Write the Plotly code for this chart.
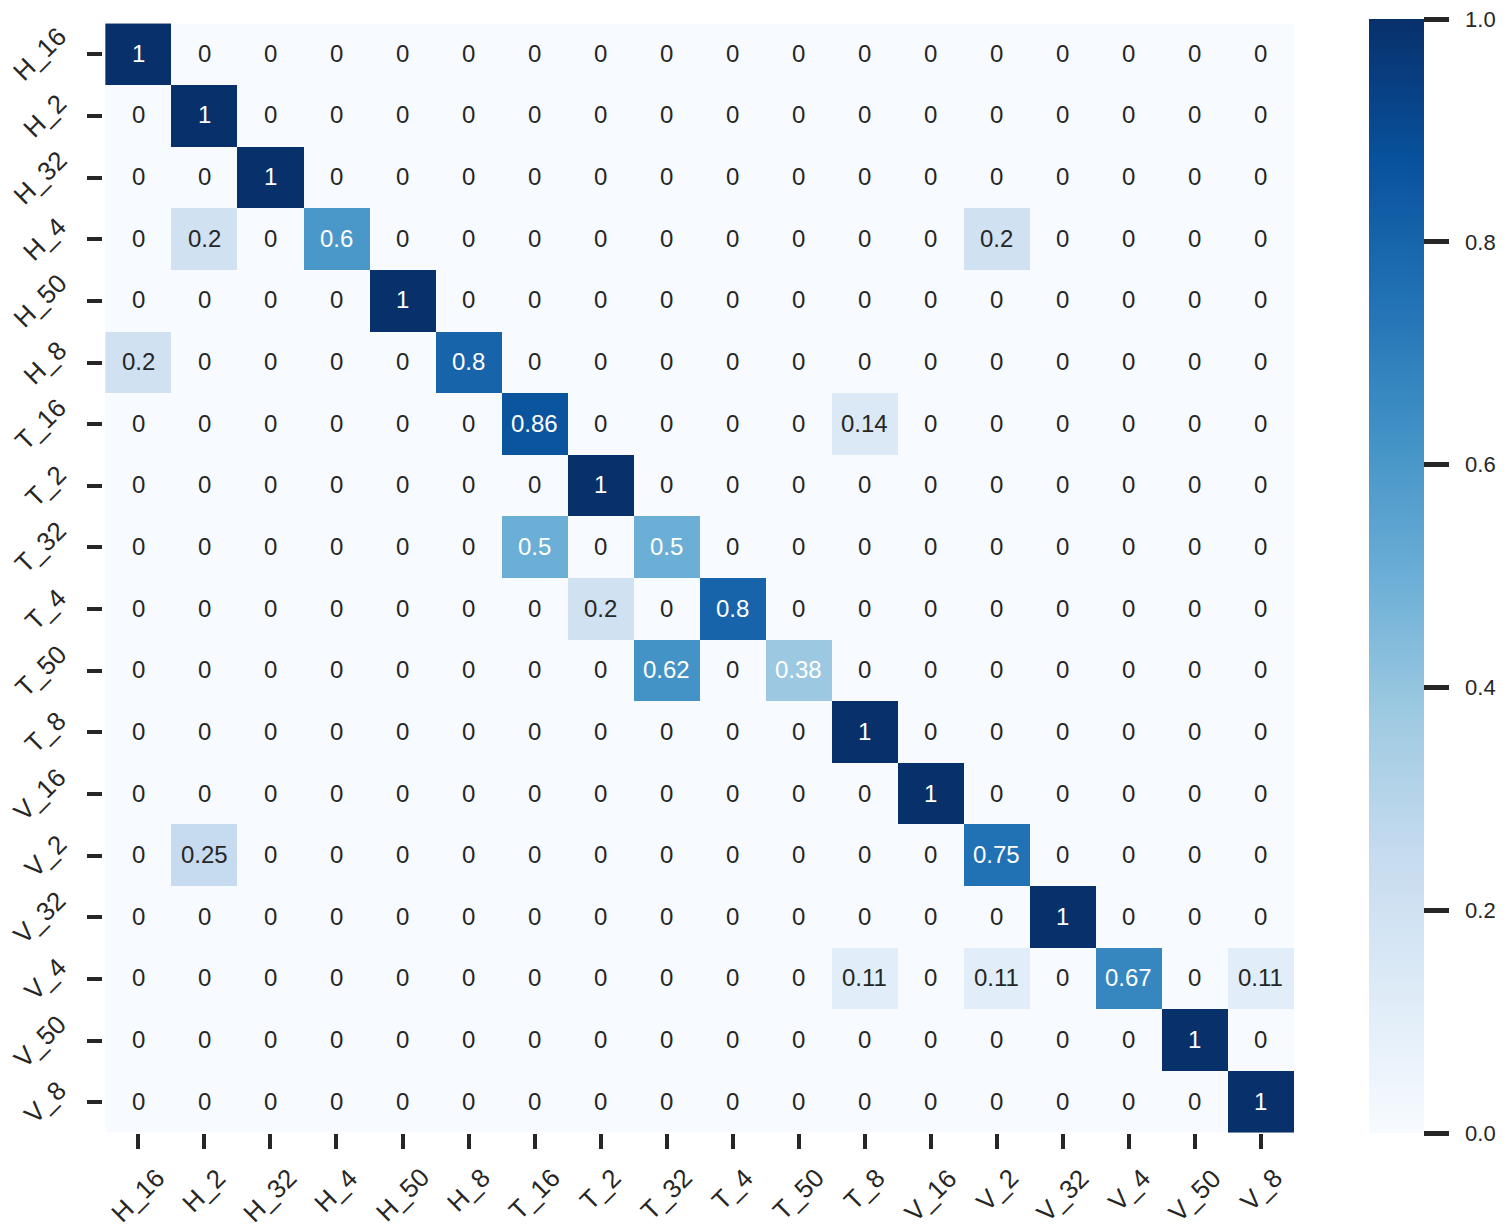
import plotly.graph_objects as go

labels = ["H_16", "H_2", "H_32", "H_4", "H_50", "H_8",
          "T_16", "T_2", "T_32", "T_4", "T_50", "T_8",
          "V_16", "V_2", "V_32", "V_4", "V_50", "V_8"]

# nonzero entries per row: (true label) -> {predicted label: value}
row_H_16 = {"H_16": 1}
row_H_2 = {"H_2": 1}
row_H_32 = {"H_32": 1}
row_H_4 = {"H_2": 0.2, "H_4": 0.6, "V_2": 0.2}
row_H_50 = {"H_50": 1}
row_H_8 = {"H_16": 0.2, "H_8": 0.8}
row_T_16 = {"T_16": 0.86, "T_8": 0.14}
row_T_2 = {"T_2": 1}
row_T_32 = {"T_16": 0.5, "T_32": 0.5}
row_T_4 = {"T_2": 0.2, "T_4": 0.8}
row_T_50 = {"T_32": 0.62, "T_50": 0.38}
row_T_8 = {"T_8": 1}
row_V_16 = {"V_16": 1}
row_V_2 = {"H_2": 0.25, "V_2": 0.75}
row_V_32 = {"V_32": 1}
row_V_4 = {"T_8": 0.11, "V_2": 0.11, "V_4": 0.67, "V_8": 0.11}
row_V_50 = {"V_50": 1}
row_V_8 = {"V_8": 1}

rows = [row_H_16, row_H_2, row_H_32, row_H_4, row_H_50, row_H_8,
        row_T_16, row_T_2, row_T_32, row_T_4, row_T_50, row_T_8,
        row_V_16, row_V_2, row_V_32, row_V_4, row_V_50, row_V_8]

cbar_ticks = [0.0, 0.2, 0.4, 0.6, 0.8, 1.0]

z = [[r.get(c, 0) for c in labels] for r in rows]

blues = [[0.0, "#f7fbff"], [0.125, "#deebf7"], [0.25, "#c6dbef"], [0.375, "#9ecae1"],
         [0.5, "#6baed6"], [0.625, "#4292c6"], [0.75, "#2171b5"], [0.875, "#08519c"],
         [1.0, "#08306b"]]

FONT = "Arial, Liberation Sans, sans-serif"
TXT = "#262626"
NB = "\u00a0"

fig = go.Figure(go.Heatmap(
    z=z, x=labels, y=labels, colorscale=blues, zmin=0, zmax=1,
    xgap=0, ygap=0, hoverinfo="skip",
    colorbar=dict(
        x=1.063, xanchor="left", xref="paper", xpad=0, ypad=0,
        y=0.5, yanchor="middle",
        len=1.0, lenmode="fraction", thickness=55, thicknessmode="pixels",
        outlinewidth=0, ticks="outside", ticklen=25, tickwidth=5, tickcolor=TXT,
        tickvals=cbar_ticks, ticktext=[NB * 2 + f"{t:.1f}" for t in cbar_ticks],
        tickfont=dict(family=FONT, size=22, color=TXT),
        ticklabeloverflow="allow",
    ),
))

annotations = []
for i, rl in enumerate(labels):
    for j, cl in enumerate(labels):
        v = z[i][j]
        annotations.append(dict(
            x=cl, y=rl, xref="x", yref="y", text=format(v, ".2g"), showarrow=False,
            yshift=1,
            font=dict(family=FONT, size=24, color="white" if v >= 0.3 else TXT),
        ))

# axis tick labels (rotated, bbox-centred like matplotlib)
for lab in labels:
    annotations.append(dict(
        x=lab, xref="x", y=0, yref="paper", xanchor="center", yanchor="top",
        yshift=-27, text=lab, textangle=-45, showarrow=False,
        font=dict(family=FONT, size=26, color=TXT),
    ))
    annotations.append(dict(
        y=lab, yref="y", x=0, xref="paper", xanchor="right", yanchor="middle",
        xshift=-28, text=lab, textangle=-45, showarrow=False,
        font=dict(family=FONT, size=26, color=TXT),
    ))

fig.update_layout(
    width=1502, height=1222,
    margin=dict(l=95, r=216, t=11, b=97, autoexpand=False),
    plot_bgcolor="white", paper_bgcolor="white",
    annotations=annotations,
    xaxis=dict(ticks="outside", ticklen=15, tickwidth=4, tickcolor=TXT,
               showticklabels=False, showgrid=False, zeroline=False,
               showline=False),
    yaxis=dict(ticks="outside", ticklen=15, tickwidth=4, tickcolor=TXT,
               showticklabels=False, showgrid=False, zeroline=False,
               showline=False, autorange="reversed"),
)

fig.write_html("out.html")
